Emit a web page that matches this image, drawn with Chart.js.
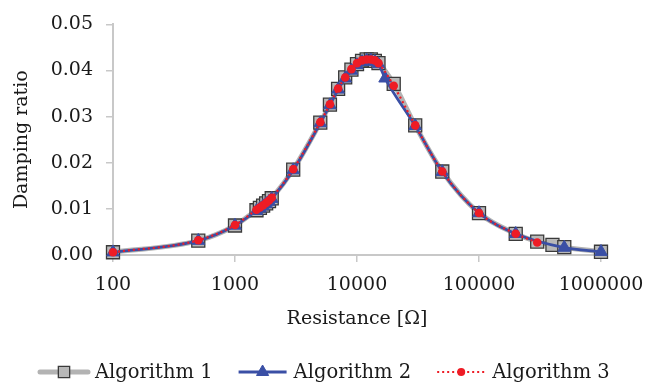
<!DOCTYPE html>
<html>
<head>
<meta charset="utf-8">
<script src="https://cdn.jsdelivr.net/npm/chart.js@4/dist/chart.umd.min.js"></script>
<style>
  html, body { margin: 0; padding: 0; background: #fff; }
  #wrap { width: 646px; height: 387px; }
</style>
</head>
<body>
<div id="wrap"><canvas id="chart" width="646" height="387"></canvas></div>
<script>
// ---- data ----
const seriesNames = ['Algorithm 1', 'Algorithm 2', 'Algorithm 3'];
const xTicks = [100, 1000, 10000, 100000, 1000000];
const yTicks = [0, 0.01, 0.02, 0.03, 0.04, 0.05];

const alg1X = [100, 500, 1000, 1500, 1600, 1700, 1800, 1900, 2000, 3000, 5000, 6000, 7000, 8000, 9000, 10000,
  11000, 12000, 13000, 14000, 15000, 20000, 30000, 50000, 100000, 200000, 300000, 400000, 500000, 1000000];
const alg1Y = [0.0006, 0.0031, 0.0064, 0.0097, 0.0102, 0.0107, 0.0112, 0.0117, 0.0123, 0.0185, 0.0287, 0.0326, 0.0360, 0.0385, 0.0402, 0.0414,
  0.0421, 0.0424, 0.0424, 0.0421, 0.0416, 0.0371, 0.0281, 0.0181, 0.0091, 0.0046, 0.0029, 0.0022, 0.0017, 0.0007];

const alg2X = [100, 500, 1000, 1500, 1600, 1700, 1800, 1900, 2000, 3000, 5000, 6000, 7000, 8000, 9000, 10000,
  11000, 12000, 13000, 14000, 15000, 17000, 30000, 50000, 100000, 200000, 500000, 1000000];
const alg2Y = [0.0006, 0.0031, 0.0064, 0.0096, 0.0101, 0.0106, 0.0111, 0.0116, 0.0122, 0.0184, 0.0286, 0.0325, 0.0359, 0.0383, 0.0400, 0.0412,
  0.0419, 0.0422, 0.0422, 0.0419, 0.0414, 0.0383, 0.0280, 0.0180, 0.0091, 0.0046, 0.0016, 0.0007];

const alg3X = [100, 500, 1000, 1500, 1600, 1700, 1800, 1900, 2000, 3000, 5000, 6000, 7000, 8000, 9000, 10000,
  11000, 12000, 13000, 14000, 15000, 20000, 30000, 50000, 100000, 200000, 300000];
const alg3Y = [0.0006, 0.0032, 0.0065, 0.0098, 0.0103, 0.0108, 0.0113, 0.0118, 0.0124, 0.0186, 0.0288, 0.0327, 0.0361, 0.0385, 0.0403, 0.0416,
  0.0422, 0.0424, 0.0424, 0.0422, 0.0416, 0.0367, 0.0281, 0.0181, 0.0091, 0.0046, 0.0027];

// ---- styling ----
const FONT = '"DejaVu Serif", "Liberation Serif", serif';
const TEXT = '#1a1a1a';
const AXIS = '#c8c8c8';
const GRAY_LINE = '#b3b3b3', GRAY_FILL = '#b8b8b8', GRAY_EDGE = '#3a3a3a';
const BLUE = '#3a4fa5';
const RED  = '#ee1c25';

const pts = (xs, ys) => xs.map((x, i) => ({ x, y: ys[i] }));

const datasets = [
  {
    label: seriesNames[0], data: pts(alg1X, alg1Y), order: 3, clip: false,
    borderColor: GRAY_LINE, borderWidth: 5, cubicInterpolationMode: 'monotone',
    pointStyle: 'rect', pointRadius: 9.2, pointBackgroundColor: GRAY_FILL,
    pointBorderColor: GRAY_EDGE, pointBorderWidth: 1.3,
  },
  {
    label: seriesNames[1], data: pts(alg2X, alg2Y), order: 2, clip: false,
    borderColor: BLUE, borderWidth: 2.8, cubicInterpolationMode: 'monotone',
    pointStyle: 'triangle', pointRadius: 7.3, pointBackgroundColor: BLUE,
    pointBorderColor: BLUE, pointBorderWidth: 1,
  },
  {
    label: seriesNames[2], data: pts(alg3X, alg3Y), order: 1, clip: false,
    borderColor: RED, borderWidth: 2.2, borderDash: [2, 3], cubicInterpolationMode: 'monotone',
    pointStyle: 'circle', pointRadius: 4.3, pointBackgroundColor: RED,
    pointBorderColor: RED, pointBorderWidth: 0,
  },
];

// legend drawn by hand: line sample with the marker in its middle
const bottomLegend = {
  id: 'bottomLegend',
  afterDraw(chart) {
    const ctx = chart.ctx;
    const y = 372, sample = 52, gap = 5, itemGap = 24;
    ctx.save();
    ctx.font = '19.5px ' + FONT;
    const widths = seriesNames.map(n => sample + gap + ctx.measureText(n).width);
    let x = 38;
    datasets.forEach((ds, i) => {
      ctx.save();
      ctx.strokeStyle = ds.borderColor;
      ctx.lineWidth = ds.borderWidth;
      ctx.setLineDash(ds.borderDash || []);
      ctx.lineCap = i === 0 ? 'round' : 'butt';
      ctx.beginPath(); ctx.moveTo(x + 2, y); ctx.lineTo(x + sample - 2, y); ctx.stroke();
      ctx.restore();
      ctx.fillStyle = ds.pointBackgroundColor;
      ctx.strokeStyle = ds.pointBorderColor;
      ctx.lineWidth = ds.pointBorderWidth;
      const r = i === 0 ? 8 : i === 1 ? 7 : 4;
      Chart.helpers.drawPoint(ctx, { pointStyle: ds.pointStyle, radius: r, borderWidth: ds.pointBorderWidth, rotation: 0 }, x + sample / 2, y);
      ctx.fillStyle = TEXT;
      ctx.textBaseline = 'middle';
      ctx.textAlign = 'left';
      ctx.fillText(ds.label, x + sample + gap, y + 1);
      x += widths[i] + itemGap;
    });
    ctx.restore();
  }
};

new Chart(document.getElementById('chart'), {
  type: 'line',
  data: { datasets },
  plugins: [bottomLegend],
  options: {
    responsive: false,
    animation: false,
    devicePixelRatio: 1,
    layout: { padding: { left: 0, right: 45, top: 15, bottom: 46 } },
    plugins: { legend: { display: false }, tooltip: { enabled: false } },
    scales: {
      x: {
        type: 'logarithmic', min: 100, max: 1000000,
        afterBuildTicks: s => { s.ticks = xTicks.map(v => ({ value: v })); },
        afterFit: s => { s.height = 86; s.paddingRight = 0; s.paddingLeft = 0; },
        ticks: { color: TEXT, font: { family: FONT, size: 19 }, padding: 12, maxRotation: 0,
                 callback: v => String(v) },
        grid: { drawOnChartArea: false, drawTicks: true, tickLength: 7, color: AXIS, lineWidth: 1.5 },
        border: { color: AXIS, width: 2 },
        title: { display: true, text: 'Resistance [Ω]', color: TEXT,
                 font: { family: FONT, size: 19, lineHeight: 1.2 }, padding: { top: 0, bottom: 10.6 } },
      },
      y: {
        min: 0, max: 0.05,
        afterBuildTicks: s => { s.ticks = yTicks.map(v => ({ value: v })); },
        afterFit: s => { s.width = 113; },
        ticks: { color: TEXT, font: { family: FONT, size: 19 }, padding: 13,
                 callback: v => Number(v).toFixed(2) },
        grid: { drawOnChartArea: false, drawTicks: true, tickLength: 7, color: AXIS, lineWidth: 1.5 },
        border: { color: AXIS, width: 2 },
        title: { display: true, text: 'Damping ratio', color: TEXT,
                 font: { family: FONT, size: 19, lineHeight: 1.2 }, padding: { top: 10.6, bottom: 0 } },
      }
    }
  }
});
</script>
</body>
</html>
